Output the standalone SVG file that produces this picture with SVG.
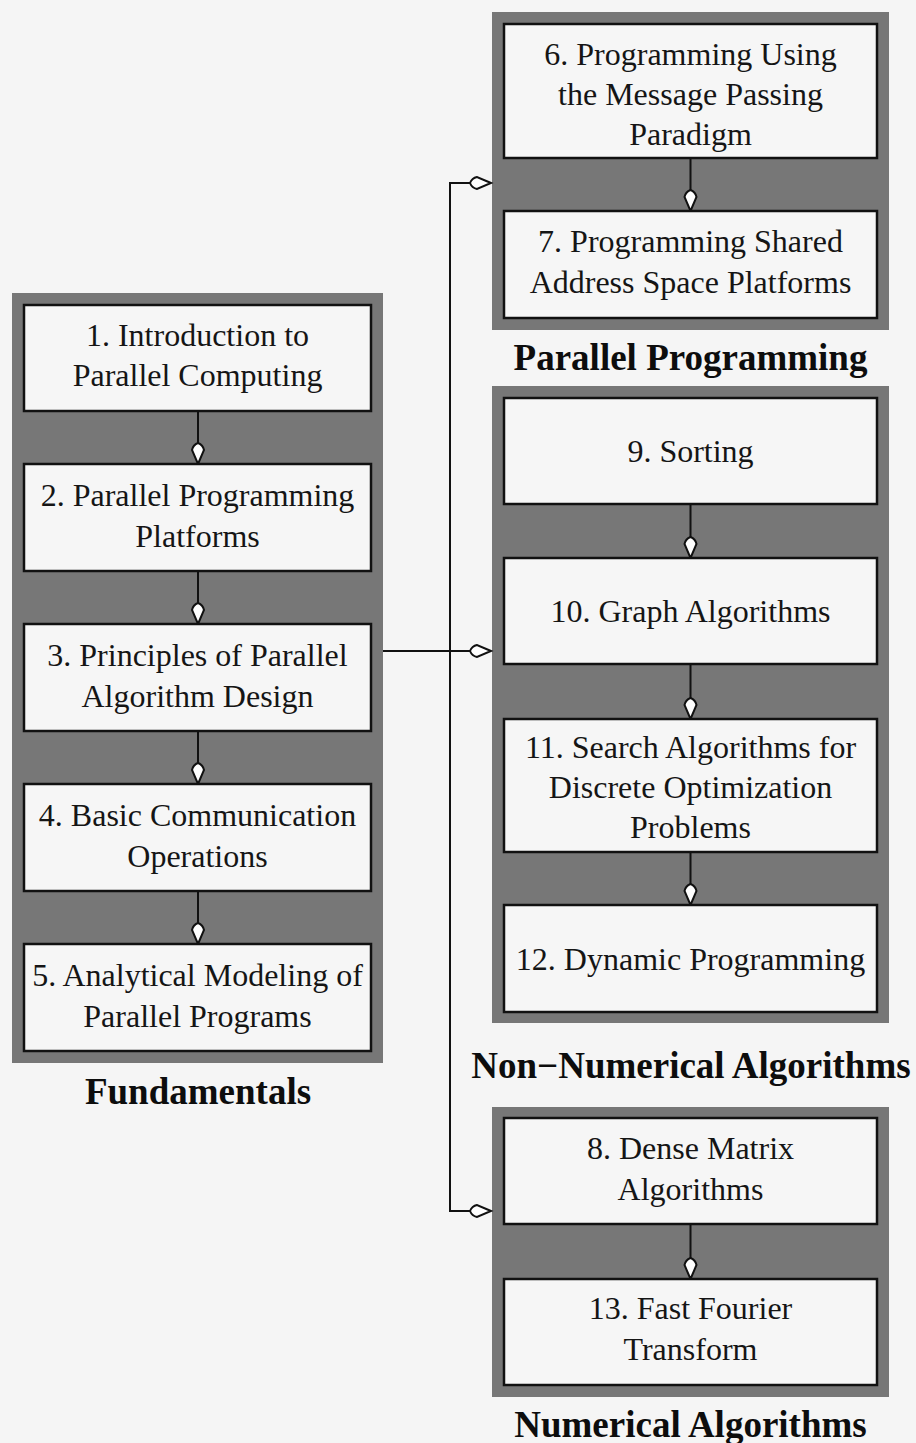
<svg xmlns="http://www.w3.org/2000/svg" width="916" height="1443" viewBox="0 0 916 1443">
<style>
.bg{fill:#f5f5f5}
.panel{fill:#777777}
.box{fill:#f6f6f6;stroke:#111;stroke-width:2.5}
.t{font-family:"Liberation Serif","Times New Roman",serif;font-size:32px;fill:#151515;text-anchor:middle}
.h{font-family:"Liberation Serif","Times New Roman",serif;font-size:37px;font-weight:bold;fill:#0d0d0d;text-anchor:middle}
.c{fill:none;stroke:#111;stroke-width:2}
</style>
<defs>
<marker id="ah" markerUnits="userSpaceOnUse" orient="auto" refX="0" refY="0" viewBox="-25 -8 27 16" markerWidth="27" markerHeight="16" overflow="visible">
<path d="M0,0 L-14,-6 Q-19,-5 -21,0 Q-19,5 -14,6 Z" fill="#fff" stroke="#111" stroke-width="2" stroke-linejoin="miter"/>
</marker>
</defs>
<rect class="bg" x="0" y="0" width="916" height="1443"/>

<g id="panel-fundamentals">
<rect class="panel" x="12" y="293" width="371" height="770"/>
<text class="h" x="198" y="1104">Fundamentals</text>
</g>
<g id="panel-parallel-programming">
<rect class="panel" x="492" y="12" width="397" height="318"/>
<text class="h" x="690.5" y="370">Parallel Programming</text>
</g>
<g id="panel-non-numerical">
<rect class="panel" x="492" y="386" width="397" height="637"/>
<text class="h" x="691" y="1078">Non−Numerical Algorithms</text>
</g>
<g id="panel-numerical">
<rect class="panel" x="492" y="1107" width="397" height="290"/>
<text class="h" x="690.5" y="1437">Numerical Algorithms</text>
</g>

<g id="connectors">
<line class="c" x1="198" y1="411" x2="198" y2="464" marker-end="url(#ah)"/>
<line class="c" x1="198" y1="571" x2="198" y2="624" marker-end="url(#ah)"/>
<line class="c" x1="198" y1="731" x2="198" y2="784" marker-end="url(#ah)"/>
<line class="c" x1="198" y1="891" x2="198" y2="944" marker-end="url(#ah)"/>
<line class="c" x1="690.5" y1="158" x2="690.5" y2="211" marker-end="url(#ah)"/>
<line class="c" x1="690.5" y1="504" x2="690.5" y2="558" marker-end="url(#ah)"/>
<line class="c" x1="690.5" y1="664" x2="690.5" y2="719" marker-end="url(#ah)"/>
<line class="c" x1="690.5" y1="852" x2="690.5" y2="905" marker-end="url(#ah)"/>
<line class="c" x1="690.5" y1="1224" x2="690.5" y2="1279" marker-end="url(#ah)"/>
<line class="c" x1="383" y1="651" x2="491" y2="651" marker-end="url(#ah)"/>
<line class="c" x1="450" y1="183" x2="450" y2="1211"/>
<line class="c" x1="449" y1="183" x2="491" y2="183" marker-end="url(#ah)"/>
<line class="c" x1="449" y1="1211" x2="491" y2="1211" marker-end="url(#ah)"/>
</g>

<g id="n1"><rect class="box" x="24" y="305" width="347" height="106"/>
<text class="t" x="197.5" y="346">1. Introduction to</text><text class="t" x="197.5" y="386">Parallel Computing</text></g>
<g id="n2"><rect class="box" x="24" y="464" width="347" height="107"/>
<text class="t" x="197.5" y="506">2. Parallel Programming</text><text class="t" x="197.5" y="547">Platforms</text></g>
<g id="n3"><rect class="box" x="24" y="624" width="347" height="107"/>
<text class="t" x="197.5" y="666">3. Principles of Parallel</text><text class="t" x="197.5" y="707">Algorithm Design</text></g>
<g id="n4"><rect class="box" x="24" y="784" width="347" height="107"/>
<text class="t" x="197.5" y="826">4. Basic Communication</text><text class="t" x="197.5" y="867">Operations</text></g>
<g id="n5"><rect class="box" x="24" y="944" width="347" height="107"/>
<text class="t" x="197.5" y="986">5. Analytical Modeling of</text><text class="t" x="197.5" y="1027">Parallel Programs</text></g>

<g id="n6"><rect class="box" x="504" y="24" width="373" height="134"/>
<text class="t" x="690.5" y="65">6. Programming Using</text><text class="t" x="690.5" y="105">the Message Passing</text><text class="t" x="690.5" y="145">Paradigm</text></g>
<g id="n7"><rect class="box" x="504" y="211" width="373" height="107"/>
<text class="t" x="690.5" y="252">7. Programming Shared</text><text class="t" x="690.5" y="293">Address Space Platforms</text></g>

<g id="n9"><rect class="box" x="504" y="398" width="373" height="106"/>
<text class="t" x="690.5" y="462">9. Sorting</text></g>
<g id="n10"><rect class="box" x="504" y="558" width="373" height="106"/>
<text class="t" x="690.5" y="622">10. Graph Algorithms</text></g>
<g id="n11"><rect class="box" x="504" y="719" width="373" height="133"/>
<text class="t" x="690.5" y="758">11. Search Algorithms for</text><text class="t" x="690.5" y="798">Discrete Optimization</text><text class="t" x="690.5" y="838">Problems</text></g>
<g id="n12"><rect class="box" x="504" y="905" width="373" height="107"/>
<text class="t" x="690.5" y="970">12. Dynamic Programming</text></g>

<g id="n8"><rect class="box" x="504" y="1118" width="373" height="106"/>
<text class="t" x="690.5" y="1159">8. Dense Matrix</text><text class="t" x="690.5" y="1200">Algorithms</text></g>
<g id="n13"><rect class="box" x="504" y="1279" width="373" height="106"/>
<text class="t" x="690.5" y="1319">13. Fast Fourier</text><text class="t" x="690.5" y="1360">Transform</text></g>
</svg>
